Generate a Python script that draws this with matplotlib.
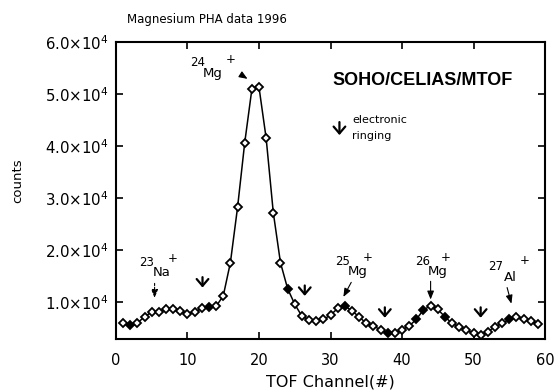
import matplotlib
matplotlib.use("Agg")
import matplotlib.pyplot as plt
from matplotlib.ticker import FixedLocator, FuncFormatter

plt.rcParams['font.family'] = ['DejaVu Sans']
plt.rcParams['mathtext.fontset'] = 'custom'
plt.rcParams['mathtext.rm'] = 'DejaVu Sans'
plt.rcParams['mathtext.it'] = 'DejaVu Sans'
plt.rcParams['mathtext.default'] = 'regular'

# ---- data ----
channels = list(range(1, 60))
counts = [5900, 5700, 6000, 7200, 8100, 8100, 8600, 8700, 8300, 7800,
          8100, 8800, 9100, 9200, 11200, 17600, 28200, 40600, 50900, 51300,
          41500, 27200, 17600, 12600, 9600, 7300, 6600, 6300, 6700, 7500,
          8800, 9300, 8300, 7200, 5900, 5400, 4700, 4000, 4000, 4700,
          5400, 6700, 8500, 9300, 8600, 7200, 5900, 5300, 4600, 4000,
          3700, 4300, 5300, 5900, 6700, 7200, 6800, 6300, 5800]
filled_channels = [2, 13, 24, 32, 38, 42, 43, 46, 55]

xticks = [0, 10, 20, 30, 40, 50, 60]
yticks = [10000, 20000, 30000, 40000, 50000, 60000]

ringing_x = [12.1, 26.4, 37.6, 51.0]
ringing_top = [14800, 13200, 9000, 9000]

title = "Magnesium PHA data 1996"
mission = "SOHO/CELIAS/MTOF"

fig = plt.figure(figsize=(5.55, 3.92), dpi=100)
ax = fig.add_axes([0.209, 0.135, 0.773, 0.758])

ax.plot(channels, counts, color='black', lw=1.1, zorder=2)
open_x = [c for c in channels if c not in filled_channels]
open_y = [v for c, v in zip(channels, counts) if c not in filled_channels]
fill_x = [c for c in channels if c in filled_channels]
fill_y = [v for c, v in zip(channels, counts) if c in filled_channels]
ax.plot(open_x, open_y, ls='none', marker='D', ms=4.3, mfc='white',
        mec='black', mew=1.3, zorder=3)
ax.plot(fill_x, fill_y, ls='none', marker='D', ms=4.3, mfc='black',
        mec='black', mew=1.3, zorder=3)

ax.set_xlim(0, 60)
ax.set_ylim(2900, 60000)
ax.xaxis.set_major_locator(FixedLocator(xticks))
ax.yaxis.set_major_locator(FixedLocator(yticks))
ax.yaxis.set_major_formatter(FuncFormatter(
    lambda v, p: r'%.1f$\times$10$^{4}$' % (v / 1e4)))
ax.tick_params(direction='in', top=True, right=True, length=5, width=1.2)
ax.tick_params(axis='x', labelsize=10.5, pad=10)
ax.tick_params(axis='y', labelsize=10.8, pad=5)
for s in ax.spines.values():
    s.set_linewidth(1.5)

fig.text(330 / 555, 1 - 382 / 392, "TOF Channel(#)", fontsize=11.5,
         ha='center', va='center')
fig.text(18 / 555, 1 - 181 / 392, "counts", fontsize=9.5, rotation=90,
         ha='center', va='center')
fig.text(127 / 555, 1 - 20 / 392, title, fontsize=8.5, ha='left', va='center')

ax.text(42.9, 52600, mission, fontsize=13, fontweight='bold',
        family='Liberation Sans', ha='center', va='center')

arrow_kw = dict(arrowstyle='->, head_length=0.35, head_width=0.3', lw=1.6,
                color='black', mutation_scale=14, shrinkA=0, shrinkB=0)

# legend for ringing arrow
ax.annotate('', xy=(31.25, 42100), xytext=(31.25, 44600), arrowprops=arrow_kw)
ax.text(33.0, 45000, "electronic", fontsize=8, ha='left', va='center')
ax.text(33.0, 41900, "ringing", fontsize=8, ha='left', va='center')

for x, top in zip(ringing_x, ringing_top):
    ax.annotate('', xy=(x, top - 2000), xytext=(x, top), arrowprops=arrow_kw)

def iso(xm, ym, mass, sym, dxp, dyp=0):
    ax.text(xm - 2.1, ym + 2000, mass, fontsize=8.5, ha='center', va='center')
    ax.text(xm, ym, sym, fontsize=9.5, ha='center', va='center')
    ax.text(xm + dxp, ym + 2700 + dyp, '+', fontsize=8.5, ha='center',
            va='center')

head_kw = dict(arrowstyle='-|>, head_length=0.5, head_width=0.2', lw=0.8,
               color='black', mutation_scale=10, shrinkA=0, shrinkB=0)

iso(13.5, 54000, '24', 'Mg', 2.6)
ax.annotate('', xy=(18.4, 52900), xytext=(17.6, 53600), arrowprops=head_kw)
iso(6.4, 15700, '23', 'Na', 1.5)
ax.annotate('', xy=(5.4, 10800), xytext=(5.4, 13600),
            arrowprops=dict(head_kw, ls=(0, (2, 1.5))))
iso(33.8, 15800, '25', 'Mg', 1.4)
ax.annotate('', xy=(31.8, 11000), xytext=(32.9, 13800), arrowprops=head_kw)
iso(45.0, 15800, '26', 'Mg', 1.1)
ax.annotate('', xy=(44.0, 10500), xytext=(44.0, 14000), arrowprops=head_kw)
iso(55.2, 14800, '27', 'Al', 1.9, 500)
ax.annotate('', xy=(55.3, 9700), xytext=(54.7, 12800), arrowprops=head_kw)

fig.savefig("out.png", dpi=100)
